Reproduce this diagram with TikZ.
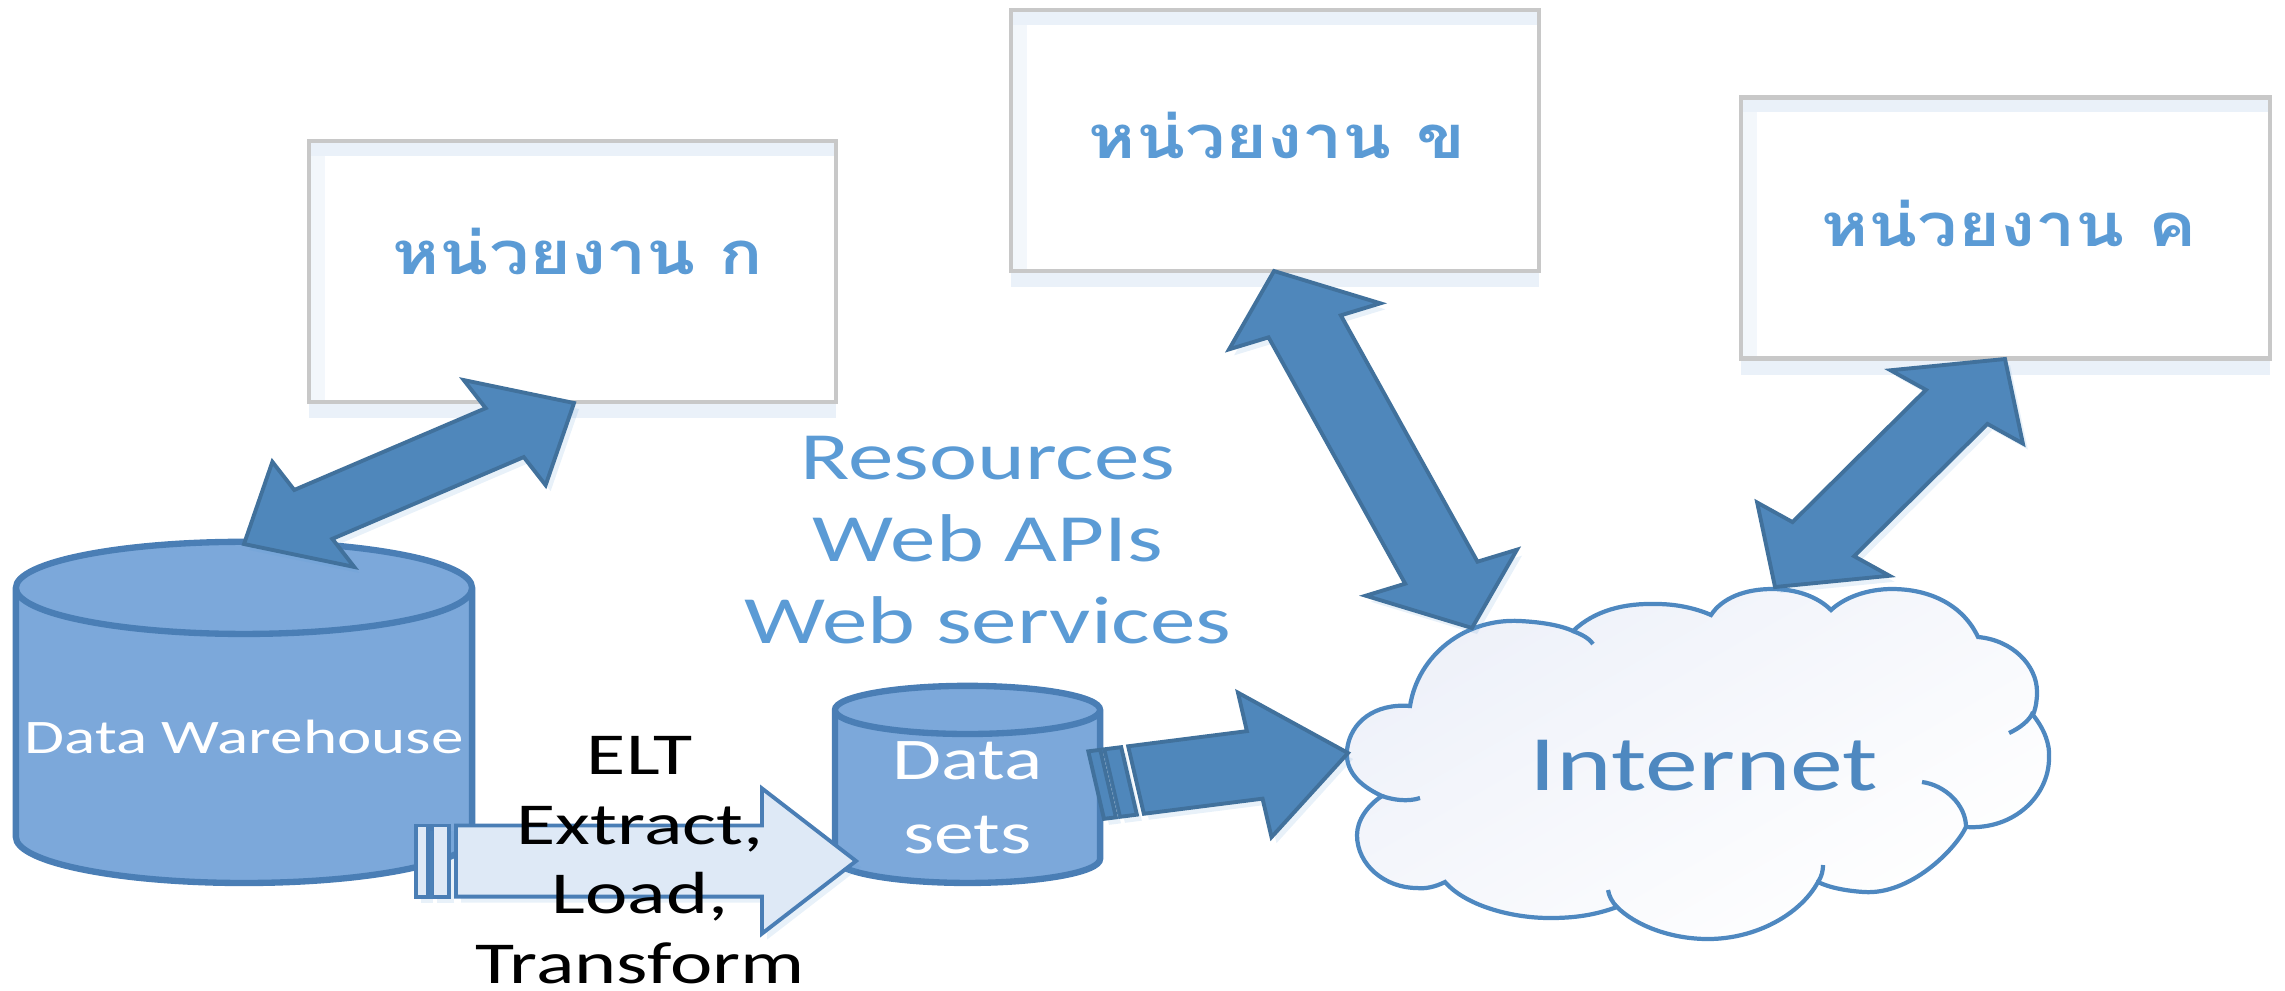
\documentclass[tikz,border=0pt]{standalone}
\usepackage{fontspec}
\usetikzlibrary{calc}
\usetikzlibrary{shapes.geometric}
\usetikzlibrary{shadows}

\newfontfamily\widefont[FakeStretch=1.35]{Carlito}
\newfontfamily\thaifont[Script=Thai,FakeStretch=1.2]{Loma}

\definecolor{boxgray}{HTML}{C8C8C8}
\definecolor{glowblue}{HTML}{EAF1F9}
\definecolor{softblue}{HTML}{5B9BD5}
\definecolor{cylfill}{HTML}{7CA8DA}
\definecolor{cylline}{HTML}{4A7EB5}
\definecolor{arrowfill}{HTML}{4F87BB}
\definecolor{arrowline}{HTML}{41719C}
\definecolor{palefill}{HTML}{DEE9F6}
\definecolor{cloudline}{HTML}{4E88C0}
\definecolor{cloudpale}{HTML}{EEF1F9}

\tikzset{
  unitbox/.style={draw=boxgray,line width=1.3pt,fill=white,inner sep=0pt,
    minimum width=#1,minimum height=2.61cm,
    drop shadow={shadow xshift=0cm,shadow yshift=-.16cm,fill=glowblue,opacity=1},
    path picture={
      \shade[left color=glowblue!60!white,right color=white] (path picture bounding box.south west) rectangle ([xshift=.16cm]path picture bounding box.north west);
      \fill[glowblue] (path picture bounding box.north west) rectangle ([yshift=-.15cm]path picture bounding box.north east);
    }},
  unitlabel/.style={anchor=base,inner sep=0pt,text=softblue,font=\thaifont\bfseries\fontsize{17pt}{20pt}\selectfont},
  store/.style={cylinder,shape border rotate=90,aspect=.21,draw=cylline,line width=1.8pt,fill=cylfill,
    inner sep=0pt,text=white,font=\widefont,align=center},
  blockarrow/.style={draw=arrowline,line width=1.1pt,fill=arrowfill,line join=miter,
    drop shadow={shadow xshift=.05cm,shadow yshift=-.06cm,fill=softblue,opacity=.14}},
  palearrow/.style={blockarrow,draw=cylline,fill=palefill},
  cloudshape/.style={draw=cloudline,line width=1.2pt},
  note/.style={inner sep=0pt,align=center,font=\widefont}
}

% tips, head length, half widths of head and of shaft
\newcommand{\twowayarrow}[5]{
  \path let \p1=($(#2)-(#1)$) in coordinate (nv) at ({-1.35*\y1},{\x1/1.35});
  \coordinate (h1) at ($(#1)!#3!(#2)$);
  \coordinate (h2) at ($(#2)!#3!(#1)$);
  \draw[blockarrow] (#1) -- ($(h1)+#4*(nv)$) -- ($(h1)+#5*(nv)$) -- ($(h2)+#5*(nv)$) -- ($(h2)+#4*(nv)$)
    -- (#2) -- ($(h2)-#4*(nv)$) -- ($(h2)-#5*(nv)$) -- ($(h1)-#5*(nv)$) -- ($(h1)-#4*(nv)$) -- cycle;
}
% style, tail, tip, head length, half widths of head and of shaft, one pixel along the axis
\newcommand{\stripedarrow}[7]{
  \path let \p1=($(#3)-(#2)$) in coordinate (nv) at ({-1.35*\y1},{\x1/1.35});
  \coordinate (h1) at ($(#3)!#4!(#2)$);
  \draw[#1] ($(#2)+#6*(nv)$) -- ($(h1)+#6*(nv)$) -- ($(h1)+#5*(nv)$) -- (#3)
    -- ($(h1)-#5*(nv)$) -- ($(h1)-#6*(nv)$) -- ($(#2)-#6*(nv)$) -- cycle;
  \coordinate (s1) at ($(#2)!{-7*#7}!(#3)$);
  \coordinate (s2) at ($(#2)!{-24*#7}!(#3)$);
  \coordinate (s3) at ($(#2)!{-28*#7}!(#3)$);
  \coordinate (s4) at ($(#2)!{-40*#7}!(#3)$);
  \draw[#1] ($(s1)+#6*(nv)$) -- ($(s2)+#6*(nv)$) -- ($(s2)-#6*(nv)$) -- ($(s1)-#6*(nv)$) -- cycle;
  \draw[#1] ($(s3)+#6*(nv)$) -- ($(s4)+#6*(nv)$) -- ($(s4)-#6*(nv)$) -- ($(s3)-#6*(nv)$) -- cycle;
}

\begin{document}
\begin{tikzpicture}[x=0.01cm,y=-0.01cm]
  \useasboundingbox (0,0) rectangle (2285,990);

  \node[unitbox=5.27cm] (unitA) at (572.5,271.5) {};
  \node[unitbox=5.28cm] (unitB) at (1275,140.5) {};
  \node[unitbox=5.29cm] (unitC) at (2005.5,228) {};
  \node[unitlabel] (labelA) at (578,274) {หน่วยงาน ก};
  \node[unitlabel] (labelB) at (1277,158) {หน่วยงาน ข};
  \node[unitlabel] (labelC) at (2009,246) {หน่วยงาน ค};

  \node[store,minimum width=4.56cm,minimum height=3.41cm,font=\widefont\fontsize{13.7pt}{16pt}\selectfont] (warehouse) at (244,737) {Data Warehouse};
  \node[store,aspect=.32,minimum width=2.65cm,minimum height=1.97cm,font=\widefont\fontsize{16.8pt}{21pt}\selectfont] (datasets) at (967.5,798) {Data\\sets};

  % cloud outline, lobe by lobe
  \draw[cloudshape,top color=cloudpale,middle color=white,bottom color=white,shading angle=30] (1382,796)
    .. controls (1358,785) and (1345,770) .. (1347,750) .. controls (1350,722) and (1375,703) .. (1410,706)
    .. controls (1418,655) and (1465,618) .. (1520,621) .. controls (1540,622) and (1560,625) .. (1573,631)
    .. controls (1595,610) and (1625,603) .. (1657,604) .. controls (1680,604) and (1700,610) .. (1711,615)
    .. controls (1722,598) and (1745,589) .. (1772,589) .. controls (1797,589) and (1818,597) .. (1831,610)
    .. controls (1845,597) and (1868,589) .. (1892,589) .. controls (1930,589) and (1963,605) .. (1978,637)
    .. controls (2012,640) and (2037,665) .. (2037,692) .. controls (2037,700) and (2036,707) .. (2033,715)
    .. controls (2045,730) and (2050,745) .. (2049,758) .. controls (2049,795) and (2015,830) .. (1966,827)
    .. controls (1955,850) and (1910,895) .. (1864,892) .. controls (1848,891) and (1830,888) .. (1818,882)
    .. controls (1800,915) and (1755,939) .. (1708,939) .. controls (1670,939) and (1635,925) .. (1617,907)
    .. controls (1595,915) and (1575,918) .. (1550,918) .. controls (1510,918) and (1465,905) .. (1445,882)
    .. controls (1435,887) and (1425,889) .. (1417,888) .. controls (1385,888) and (1357,865) .. (1357,835)
    .. controls (1357,820) and (1368,805) .. (1382,796) -- cycle;
  \draw[cloudshape] (1382,796) .. controls (1393,800) and (1408,802) .. (1420,798);
  \draw[cloudshape] (1573,631) .. controls (1580,634) and (1588,637) .. (1593,644);
  \draw[cloudshape] (2033,712) .. controls (2030,720) and (2020,728) .. (2009,733);
  \draw[cloudshape] (1922,782) .. controls (1945,785) and (1966,805) .. (1966,827);
  \draw[cloudshape] (1818,882) .. controls (1822,876) and (1823,870) .. (1823,865);
  \draw[cloudshape] (1617,907) .. controls (1612,902) and (1609,896) .. (1608,890);
  \node[inner sep=0pt,anchor=base,text=cloudline,font=\widefont\fontsize{22.3pt}{25pt}\selectfont] (internet) at (1704,790) {Internet};

  % ends of the arrows
  \coordinate (tipA) at (574,403);
  \coordinate (tipW) at (244,544);
  \coordinate (tipB) at (1274,271);
  \coordinate (tipN) at (1472,628);
  \coordinate (tipC) at (2005,359);
  \coordinate (tipM) at (1775,587);
  \coordinate (eltTail) at (456,861);
  \coordinate (eltTip) at (856,861);
  \coordinate (pubTail) at (1136,780);
  \coordinate (pubTip) at (1348,753);

  \twowayarrow{tipA}{tipW}{.21}{.215}{.1}
  \twowayarrow{tipB}{tipN}{.155}{.157}{.075}
  \twowayarrow{tipC}{tipM}{.21}{.215}{.1}
  \stripedarrow{blockarrow}{pubTail}{pubTip}{.44}{.46}{.215}{.0047}
  \stripedarrow{palearrow}{eltTail}{eltTip}{.235}{.245}{.12}{.0025}

  \node[note,text=softblue,font=\widefont\fontsize{19.2pt}{23.3pt}\selectfont] (services) at (988,540) {Resources\\Web APIs\\Web services};
  \node[note,font=\widefont\fontsize{16.9pt}{19.8pt}\selectfont] (elt) at (640,860) {ELT\\Extract,\\Load,\\Transform};
\end{tikzpicture}
\end{document}
